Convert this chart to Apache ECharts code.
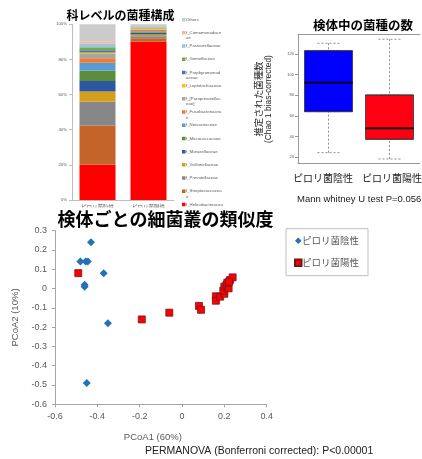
<!DOCTYPE html>
<html><head><meta charset="utf-8">
<script src="https://cdn.jsdelivr.net/npm/echarts@6/dist/echarts.min.js"></script>
<style>html,body{margin:0;padding:0;background:#fff}#c{width:422px;height:459px}</style>
</head><body><div id="c"></div>
<script>
// ---------- Panel 1: family-level composition (%; listed bottom → top) ----------
const barCategories = ['ピロリ菌陰性', 'ピロリ菌陽性'];
const familyNames = ['f_Helicobacteraceae','f_Streptococcaceae','f_Prevotellaceae','f_Veillonellaceae','f_Moraxellaceae','f_Micrococcaceae','f_Neisseriaceae','f_Fusobacteriaceae','f_[Paraprevotellaceae]','f_Leptotrichiaceae','f_Porphyromonadaceae','f_Gemellaceae','f_Pasteurellaceae','f_Comamonadaceae','Others'];
const familyLegendLabels = ['f_Helicobacteracea\ne','f_Streptococcacea\ne','f_Prevotellaceae','f_Veillonellaceae','f_Moraxellaceae','f_Micrococcaceae','f_Neisseriaceae','f_Fusobacteriacea\ne','f_[Paraprevotellac\neae]','f_Leptotrichiaceae','f_Porphyromonad\naceae','f_Gemellaceae','f_Pasteurellaceae','f_Comamonadace\nae','Others'];
const negativeShares = [20.0, 22.4, 13.7, 5.7, 6.0, 5.7, 4.6, 2.6, 2.4, 0.9, 1.3, 1.7, 2.1, 1.3, 9.6];
const positiveShares = [90.1, 1.9, 1.2, 1.0, 0.8, 0.5, 0.6, 0.7, 0.3, 0.6, 0.3, 0.2, 0.2, 0.1, 1.5];
const percentTicks = [0, 20, 40, 60, 80, 100];

// ---------- Panel 2: estimated species count (Chao1) ----------
const boxCategories = ['ピロリ菌陰性', 'ピロリ菌陽性'];
const boxMin    = [24.5, 18.4];
const boxQ1     = [64.2, 37.5];
const boxMedian = [92.3, 48.1];
const boxQ3     = [123.2, 80.3];
const boxMax    = [130.4, 134.3];
const boxTickValues = [20, 40, 60, 80, 100, 120];

// ---------- Panel 3: PCoA ----------
const pcoaGroups = ['ピロリ菌陰性', 'ピロリ菌陽性'];
const pcoaNegative = [[-0.43,0.24],[-0.48,0.14],[-0.455,0.14],[-0.445,0.14],[-0.37,0.08],[-0.46,0.02],[-0.46,0.01],[-0.35,-0.18],[-0.45,-0.49]];
const pcoaPositive = [[-0.49,0.08],[-0.19,-0.16],[-0.06,-0.125],[0.08,-0.09],[0.09,-0.11],[0.16,-0.04],[0.16,-0.063],[0.18,-0.042],[0.2,-0.027],[0.195,-0.011],[0.2,0.01],[0.21,0.019],[0.22,0.001],[0.214,0.03],[0.227,0.044],[0.239,0.058],[0.222,0.035]];
const pcoaXTicks = [-0.6, -0.4, -0.2, 0, 0.2, 0.4];
const pcoaYTicks = [-0.6, -0.5, -0.4, -0.3, -0.2, -0.1, 0, 0.1, 0.2, 0.3];

// ---------- texts ----------
const titleComposition = '科レベルの菌種構成';
const titleRichness = '検体中の菌種の数';
const titleSimilarity = '検体ごとの細菌叢の類似度';
const noteMann = 'Mann whitney U test P=0.056';
const notePermanova = 'PERMANOVA (Bonferroni corrected): P<0.00001';

// ---------- styles ----------
const familyColors = ['#FF0000','#C4632A','#878787','#D4A01A','#2E57A2','#5A8E3B','#5B9BD5','#ED7D31','#A5A5A5','#FFC000','#4472C4','#70AD47','#9DC3E6','#F4B99A','#CBCBCB'];
const boxColors = ['#0000FF', '#FF0012'];
const LAT = "'Liberation Sans', 'Noto Sans CJK JP', sans-serif";
const CJK = "'Noto Sans CJK JP', sans-serif";

const chart = echarts.init(document.getElementById('c'), null, {renderer: 'canvas'});

const barSeries = familyNames.map((name, i) => ({
  type: 'bar', name, stack: 'total', xAxisIndex: 0, yAxisIndex: 0, barWidth: 36,
  data: [negativeShares[i], positiveShares[i]],
  itemStyle: {color: familyColors[i]}
}));

const option = {
  animation: false,
  textStyle: {fontFamily: LAT},
  grid: [
    {left: 72, top: 24.3, width: 102, height: 175.7, outerBoundsMode: 'none', containLabel: false},
    {left: 298, top: 34.5, width: 122, height: 129.2, outerBoundsMode: 'none', containLabel: false},
    {left: 55, top: 230.7, width: 211.7, height: 173.6, outerBoundsMode: 'none', containLabel: false}
  ],
  legend: [
    {
      data: familyNames.slice().reverse(), orient: 'vertical', left: 182, top: 17, padding: 0,
      itemWidth: 3.5, itemHeight: 10.6, itemGap: 2.6, selectedMode: false,
      icon: 'path://M0,0h3.5 M0,0.9h3.5v3.5h-3.5z M0,10.6h3.5',
      formatter: name => { const l = familyLegendLabels[familyNames.indexOf(name)]; return l.indexOf('\n') >= 0 ? l : l + '\n '; },
      textStyle: {fontSize: 4.3, lineHeight: 5.3, color: '#595959', fontFamily: LAT, padding: [0, 0, 0, -4.5]}
    },
    {
      data: pcoaGroups, orient: 'vertical', left: 286, top: 228.7, padding: [7, 9, 8, 8],
      borderColor: '#bfbfbf', borderWidth: 1, itemWidth: 6.5, itemHeight: 6.5, itemGap: 12, selectedMode: false,
      textStyle: {fontSize: 9.5, lineHeight: 10, color: '#595959', fontFamily: CJK, padding: [0, 0, 0, -4.5]}
    }
  ],
  xAxis: [
    {gridIndex: 0, type: 'category', data: barCategories,
     axisLine: {lineStyle: {color: '#bfbfbf'}}, axisTick: {length: 3, lineStyle: {color: '#bfbfbf'}},
     axisLabel: {interval: 0, fontSize: 5.5, color: '#595959', margin: 4, fontFamily: CJK}},
    {gridIndex: 1, type: 'category', data: boxCategories,
     axisLine: {lineStyle: {color: '#999'}}, axisTick: {alignWithLabel: true, length: 3, lineStyle: {color: '#999'}},
     axisLabel: {interval: 0, hideOverlap: false, fontSize: 10, color: '#222', margin: 10, fontFamily: CJK,
       formatter: (v, i) => (i === 0 ? '{l|' : '{r|') + v + '}',
       rich: {l: {fontSize: 10, fontFamily: CJK, color: '#222', padding: [0, 11, 0, 0]},
              r: {fontSize: 10, fontFamily: CJK, color: '#222', padding: [0, 0, 0, 5]}}}},
    {gridIndex: 1, type: 'category', data: boxCategories, position: 'top',
     axisLine: {lineStyle: {color: '#999'}}, axisTick: {show: false}, axisLabel: {show: false}},
    {gridIndex: 1, type: 'category', data: boxCategories, show: false},
    {gridIndex: 2, type: 'value', min: pcoaXTicks[0], max: pcoaXTicks[pcoaXTicks.length - 1], interval: 0.2,
     axisLine: {onZero: false, lineStyle: {color: '#a6a6a6'}}, axisTick: {show: true, length: 3, lineStyle: {color: '#a6a6a6'}},
     splitLine: {show: false}, axisLabel: {fontSize: 9, color: '#595959', margin: 8},
     name: 'PCoA1 (60%)', nameLocation: 'middle', nameGap: 28,
     nameTextStyle: {fontSize: 9.5, color: '#595959', padding: [0, 16, 0, 0]}}
  ],
  yAxis: [
    {gridIndex: 0, type: 'value', min: percentTicks[0], max: percentTicks[percentTicks.length - 1], interval: 20,
     axisLine: {show: true, lineStyle: {color: '#bfbfbf'}}, axisTick: {show: true, length: 3, lineStyle: {color: '#bfbfbf'}},
     splitLine: {show: false}, axisLabel: {formatter: '{value}%', fontSize: 4.3, color: '#595959', margin: 5}},
    {gridIndex: 1, type: 'value', min: 13.8, max: 138.9,
     axisLine: {show: true, lineStyle: {color: '#999'}},
     axisTick: {show: true, length: 3, lineStyle: {color: '#999'}, customValues: boxTickValues},
     axisLabel: {fontSize: 4, color: '#555', margin: 4, customValues: boxTickValues},
     splitLine: {show: false},
     name: '{a|推定された菌種数}\n{b|(Chao 1 bias-corrected)}', nameLocation: 'middle', nameGap: 24,
     nameTextStyle: {color: '#222', rich: {a: {fontSize: 9.4, lineHeight: 11.5, fontFamily: CJK, color: '#222'}, b: {fontSize: 8.4, lineHeight: 10, fontFamily: LAT, color: '#222'}}}},
    {gridIndex: 2, type: 'value', min: pcoaYTicks[0], max: pcoaYTicks[pcoaYTicks.length - 1], interval: 0.1,
     axisLine: {show: true, onZero: false, lineStyle: {color: '#a6a6a6'}}, axisTick: {show: true, length: 3, lineStyle: {color: '#a6a6a6'}},
     splitLine: {show: false}, axisLabel: {fontSize: 9, color: '#595959', margin: 8},
     name: 'PCoA2 (10%)', nameLocation: 'middle', nameGap: 28,
     nameTextStyle: {fontSize: 9.5, color: '#595959'}}
  ],
  series: barSeries.concat([
    {type: 'boxplot', name: 'whisker', xAxisIndex: 2, yAxisIndex: 1, boxWidth: [22, 22], silent: true,
     itemStyle: {color: 'rgba(0,0,0,0)', borderColor: '#8c8c8c', borderWidth: 1, borderType: [2, 2]},
     data: boxCategories.map((c, i) => [boxMin[i], boxQ1[i], boxMedian[i], boxQ3[i], boxMax[i]])},
    {type: 'boxplot', name: 'box', xAxisIndex: 1, yAxisIndex: 1, boxWidth: [48, 48], silent: true,
     itemStyle: {borderColor: '#333', borderWidth: 0.8},
     data: boxCategories.map((c, i) => ({value: [boxQ1[i], boxQ1[i], boxMedian[i], boxQ3[i], boxQ3[i]], itemStyle: {color: boxColors[i]}}))},
    {type: 'boxplot', name: 'median', xAxisIndex: 3, yAxisIndex: 1, boxWidth: [48, 48], silent: true,
     itemStyle: {color: 'rgba(0,0,0,0)', borderColor: '#000', borderWidth: 1.8},
     data: boxCategories.map((c, i) => [boxMedian[i], boxMedian[i], boxMedian[i], boxMedian[i], boxMedian[i]])},
    {type: 'scatter', name: pcoaGroups[0], xAxisIndex: 4, yAxisIndex: 2, symbol: 'diamond', symbolSize: 8,
     itemStyle: {color: '#2371B9', opacity: 1}, data: pcoaNegative},
    {type: 'scatter', name: pcoaGroups[1], xAxisIndex: 4, yAxisIndex: 2, symbol: 'rect', symbolSize: 7,
     itemStyle: {color: '#FF0000', borderColor: '#6b1a1a', borderWidth: 0.8, opacity: 1}, data: pcoaPositive}
  ]),
  graphic: [
    {type: 'rect', z: 100, shape: {x: 55, y: 207.5, width: 222, height: 21}, style: {fill: '#fff'}},
    {type: 'text', z: 101, x: 120.5, y: 15, style: {text: titleComposition, fontSize: 12, fontWeight: 'bold', fontFamily: CJK, fill: '#000', align: 'center', verticalAlign: 'middle'}},
    {type: 'text', z: 101, x: 363, y: 25, style: {text: titleRichness, fontSize: 12.5, fontWeight: 'bold', fontFamily: CJK, fill: '#000', align: 'center', verticalAlign: 'middle'}},
    {type: 'text', z: 101, x: 165.5, y: 219.5, style: {text: titleSimilarity, fontSize: 18, fontWeight: 'bold', fontFamily: CJK, fill: '#000', align: 'center', verticalAlign: 'middle'}},
    {type: 'text', z: 101, x: 297, y: 199, style: {text: noteMann, fontSize: 9.5, fontFamily: LAT, fill: '#222', align: 'left', verticalAlign: 'middle'}},
    {type: 'text', z: 101, x: 145, y: 451, style: {text: notePermanova, fontSize: 10.5, fontFamily: LAT, fill: '#222', align: 'left', verticalAlign: 'middle'}}
  ]
};
chart.setOption(option);
</script></body></html>
